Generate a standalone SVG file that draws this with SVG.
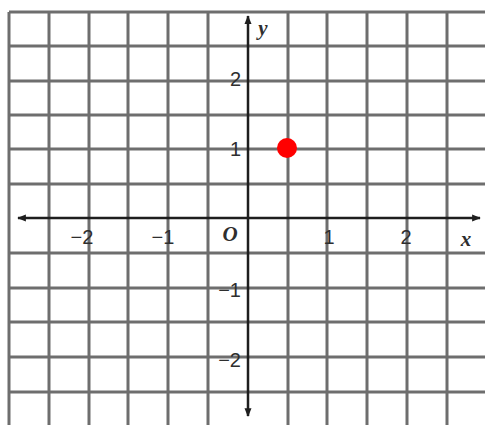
<svg xmlns="http://www.w3.org/2000/svg" width="485" height="425" viewBox="0 0 485 425">
  <defs>
    <style>
      .grid line { stroke: #6e6e6e; stroke-width: 3; }
      .axis { stroke: #1e1e1e; stroke-width: 2.5; fill: none; }
      .num { font-family: "Liberation Sans", Arial, sans-serif; font-size: 20px; fill: #2e2e2e; }
      .var { font-family: "Liberation Serif", "Times New Roman", serif; font-size: 21px; font-style: italic; font-weight: bold; fill: #2e2e2e; }
    </style>
    <marker id="arr" viewBox="0 0 10 10" refX="9" refY="5" markerWidth="3.5" markerHeight="3.5" orient="auto-start-reverse" markerUnits="strokeWidth">
      <path d="M0,1 L10,5 L0,9 z" fill="#1e1e1e"/>
    </marker>
  </defs>
  <rect width="485" height="425" fill="#fff"/>
  <g id="grid" class="grid">
    <line x1="9" y1="12" x2="9" y2="425"/>
    <line x1="49" y1="12" x2="49" y2="425"/>
    <line x1="89" y1="12" x2="89" y2="425"/>
    <line x1="128" y1="12" x2="128" y2="425"/>
    <line x1="168" y1="12" x2="168" y2="425"/>
    <line x1="208" y1="12" x2="208" y2="425"/>
    <line x1="288" y1="12" x2="288" y2="425"/>
    <line x1="327" y1="12" x2="327" y2="425"/>
    <line x1="367" y1="12" x2="367" y2="425"/>
    <line x1="407" y1="12" x2="407" y2="425"/>
    <line x1="447" y1="12" x2="447" y2="425"/>
    <line x1="9" y1="12" x2="485" y2="12"/>
    <line x1="9" y1="46" x2="485" y2="46"/>
    <line x1="9" y1="81" x2="485" y2="81"/>
    <line x1="9" y1="115" x2="485" y2="115"/>
    <line x1="9" y1="149" x2="485" y2="149"/>
    <line x1="9" y1="184" x2="485" y2="184"/>
    <line x1="9" y1="253" x2="485" y2="253"/>
    <line x1="9" y1="288" x2="485" y2="288"/>
    <line x1="9" y1="322" x2="485" y2="322"/>
    <line x1="9" y1="357" x2="485" y2="357"/>
    <line x1="9" y1="392" x2="485" y2="392"/>
  </g>
  <g id="axes">
    <line id="x-axis" class="axis" x1="18" y1="218" x2="480" y2="218" marker-start="url(#arr)" marker-end="url(#arr)"/>
    <line id="y-axis" class="axis" x1="248" y1="416" x2="248" y2="16" marker-start="url(#arr)" marker-end="url(#arr)"/>
  </g>
  <g id="labels">
    <text class="var" x="263" y="35" text-anchor="middle">y</text>
    <text class="var" x="466" y="246" text-anchor="middle">x</text>
    <text class="var" x="230" y="241" text-anchor="middle" font-size="22">O</text>
    <text class="num" x="82" y="244" text-anchor="middle">−2</text>
    <text class="num" x="163" y="244" text-anchor="middle">−1</text>
    <text class="num" x="329" y="244" text-anchor="middle">1</text>
    <text class="num" x="406" y="244" text-anchor="middle">2</text>
    <text class="num" x="241" y="86" text-anchor="end">2</text>
    <text class="num" x="241" y="156" text-anchor="end">1</text>
    <text class="num" x="241" y="297" text-anchor="end">−1</text>
    <text class="num" x="241" y="367" text-anchor="end">−2</text>
  </g>
  <g id="point">
    <circle cx="287" cy="148" r="10" fill="#ff0000"/>
  </g>
</svg>
